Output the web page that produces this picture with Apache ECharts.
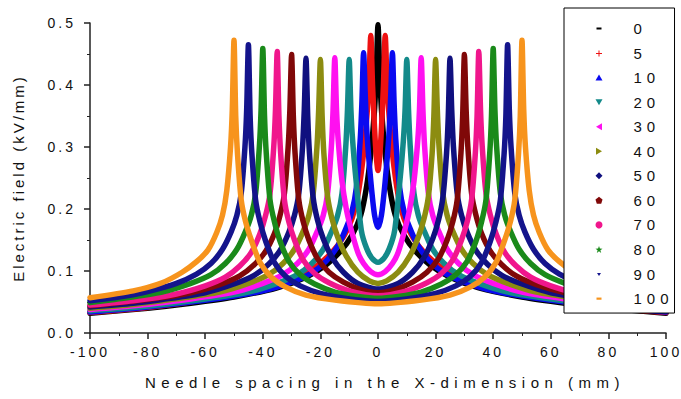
<!DOCTYPE html>
<html>
<head>
<meta charset="utf-8">
<script src="https://cdn.jsdelivr.net/npm/echarts@6/dist/echarts.min.js"></script>
<style>
html,body{margin:0;padding:0;background:#fff;}
#main{width:681px;height:399px;}
</style>
</head>
<body>
<div id="main"></div>
<script>
// Legend / series names (needle spacing, mm)
const seriesNames = ['0','5','10','20','30','40','50','60','70','80','90','100'];

// Values: x (mm) and electric field (kV/mm)
const x0 = [-100,-80,-65,-50,-35,-25,-18,-13,-9,-6,-4,-2.5,-1.2,-0.6,0,0.6,1.2,2.5,4,6,9,13,18,25,35,50,65,80,100];
const y0 = [0.032,0.04,0.048,0.058,0.073,0.09,0.11,0.132,0.158,0.19,0.235,0.29,0.36,0.42,0.497,0.42,0.36,0.29,0.235,0.19,0.158,0.132,0.11,0.09,0.073,0.058,0.048,0.04,0.032];

const x5 = [-100,-80,-55,-40,-30,-22,-16,-12,-9,-7,-5,-3.7,-3.1,-2.5,-1.9,-1.2,-0.6,0,0.6,1.2,1.9,2.5,3.1,3.7,5,7,9,12,16,22,30,40,55,80,100];
const y5 = [0.033,0.041,0.057,0.071,0.087,0.106,0.13,0.155,0.185,0.222,0.29,0.36,0.41,0.48,0.4,0.33,0.285,0.262,0.285,0.33,0.4,0.48,0.41,0.36,0.29,0.222,0.185,0.155,0.13,0.106,0.087,0.071,0.057,0.041,0.033];

const x10 = [-100,-80,-55,-40,-30,-23,-18,-14,-11,-9,-7.5,-6.2,-5.6,-5,-4.4,-3.8,-2.5,-1.2,0,1.2,2.5,3.8,4.4,5,5.6,6.2,7.5,9,11,14,18,23,30,40,55,80,100];
const y10 = [0.034,0.042,0.056,0.068,0.082,0.097,0.116,0.14,0.17,0.197,0.235,0.31,0.37,0.452,0.38,0.32,0.245,0.19,0.17,0.19,0.245,0.32,0.38,0.452,0.37,0.31,0.235,0.197,0.17,0.14,0.116,0.097,0.082,0.068,0.056,0.042,0.034];

const x20 = [-100,-85,-60,-45,-35,-28,-23,-19,-16,-14,-12.5,-11.2,-10.6,-10,-9.4,-8.8,-7.6,-5.8,-4,-2,0,2,4,5.8,7.6,8.8,9.4,10,10.6,11.2,12.5,14,16,19,23,28,35,45,60,85,100];
const y20 = [0.036,0.041,0.055,0.066,0.08,0.094,0.112,0.135,0.165,0.19,0.225,0.3,0.36,0.441,0.36,0.31,0.245,0.166,0.137,0.12,0.114,0.12,0.137,0.166,0.245,0.31,0.36,0.441,0.36,0.3,0.225,0.19,0.165,0.135,0.112,0.094,0.08,0.066,0.055,0.041,0.036];

const x30 = [-100,-85,-65,-50,-40,-33,-28,-24,-21,-19,-17.5,-16.2,-15.6,-15,-14.4,-13.8,-12.5,-11,-9.5,-7,-5,-2.5,0,2.5,5,7,9.5,11,12.5,13.8,14.4,15,15.6,16.2,17.5,19,21,24,28,33,40,50,65,85,100];
const y30 = [0.038,0.044,0.055,0.066,0.08,0.094,0.112,0.135,0.165,0.19,0.225,0.3,0.36,0.444,0.36,0.31,0.245,0.2,0.17,0.13,0.112,0.099,0.094,0.099,0.112,0.13,0.17,0.2,0.245,0.31,0.36,0.444,0.36,0.3,0.225,0.19,0.165,0.135,0.112,0.094,0.08,0.066,0.055,0.044,0.038];

const x40 = [-100,-85,-70,-55,-45,-38,-33,-29,-26,-24,-22.5,-21.2,-20.6,-20,-19.4,-18.8,-17.5,-16,-14,-11,-7,-3,0,3,7,11,14,16,17.5,18.8,19.4,20,20.6,21.2,22.5,24,26,29,33,38,45,55,70,85,100];
const y40 = [0.04,0.046,0.055,0.066,0.08,0.094,0.112,0.135,0.164,0.19,0.225,0.3,0.36,0.441,0.35,0.29,0.22,0.185,0.155,0.124,0.098,0.084,0.08,0.084,0.098,0.124,0.155,0.185,0.22,0.29,0.35,0.441,0.36,0.3,0.225,0.19,0.164,0.135,0.112,0.094,0.08,0.066,0.055,0.046,0.04];

const x50 = [-100,-85,-75,-60,-50,-43,-38,-34,-31,-29,-27.5,-26.2,-25.6,-25,-24.4,-23.8,-22.5,-21,-19,-16,-12,-7,0,7,12,16,19,21,22.5,23.8,24.4,25,25.6,26.2,27.5,29,31,34,38,43,50,60,75,85,100];
const y50 = [0.042,0.048,0.054,0.065,0.079,0.093,0.111,0.133,0.162,0.19,0.225,0.3,0.36,0.443,0.35,0.29,0.218,0.182,0.152,0.122,0.098,0.08,0.071,0.08,0.098,0.122,0.152,0.182,0.218,0.29,0.35,0.443,0.36,0.3,0.225,0.19,0.162,0.133,0.111,0.093,0.079,0.065,0.054,0.048,0.042];

const x60 = [-100,-80,-65,-55,-48,-43,-39,-36,-34,-32.5,-31.2,-30.6,-30,-29.4,-28.8,-27.5,-26,-24,-21,-17,-12,-6,0,6,12,17,21,24,26,27.5,28.8,29.4,30,30.6,31.2,32.5,34,36,39,43,48,55,65,80,100];
const y60 = [0.044,0.054,0.065,0.078,0.092,0.11,0.132,0.16,0.19,0.225,0.3,0.36,0.449,0.35,0.29,0.215,0.18,0.15,0.12,0.098,0.082,0.07,0.065,0.07,0.082,0.098,0.12,0.15,0.18,0.215,0.29,0.35,0.449,0.36,0.3,0.225,0.19,0.16,0.132,0.11,0.092,0.078,0.065,0.054,0.044];

const x70 = [-100,-85,-70,-60,-53,-48,-44,-41,-39,-37.5,-36.2,-35.6,-35,-34.4,-33.8,-32.5,-31,-29,-26,-22,-17,-10,0,10,17,22,26,29,31,32.5,33.8,34.4,35,35.6,36.2,37.5,39,41,44,48,53,60,70,85,100];
const y70 = [0.045,0.052,0.063,0.076,0.09,0.108,0.13,0.16,0.19,0.225,0.3,0.36,0.454,0.35,0.29,0.215,0.18,0.15,0.118,0.096,0.081,0.068,0.06,0.068,0.081,0.096,0.118,0.15,0.18,0.215,0.29,0.35,0.454,0.36,0.3,0.225,0.19,0.16,0.13,0.108,0.09,0.076,0.063,0.052,0.045];

const x80 = [-100,-90,-75,-65,-58,-53,-49,-46,-44,-42.5,-41.2,-40.6,-40,-39.4,-38.8,-37.5,-36,-34,-31,-27,-22,-15,-7,0,7,15,22,27,31,34,36,37.5,38.8,39.4,40,40.6,41.2,42.5,44,46,49,53,58,65,75,90,100];
const y80 = [0.049,0.055,0.066,0.08,0.094,0.112,0.135,0.164,0.19,0.225,0.3,0.36,0.459,0.35,0.29,0.215,0.18,0.148,0.116,0.094,0.079,0.066,0.059,0.056,0.059,0.066,0.079,0.094,0.116,0.148,0.18,0.215,0.29,0.35,0.459,0.36,0.3,0.225,0.19,0.164,0.135,0.112,0.094,0.08,0.066,0.055,0.049];

const x90 = [-100,-90,-80,-70,-63,-58,-54,-51,-49,-47.5,-46.2,-45.6,-45,-44.4,-43.8,-42.5,-41,-39,-36,-32,-27,-20,-10,0,10,20,27,32,36,39,41,42.5,43.8,44.4,45,45.6,46.2,47.5,49,51,54,58,63,70,80,90,100];
const y90 = [0.052,0.058,0.067,0.08,0.095,0.112,0.135,0.163,0.19,0.225,0.3,0.36,0.465,0.35,0.29,0.215,0.18,0.148,0.114,0.091,0.076,0.064,0.055,0.051,0.055,0.064,0.076,0.091,0.114,0.148,0.18,0.215,0.29,0.35,0.465,0.36,0.3,0.225,0.19,0.163,0.135,0.112,0.095,0.08,0.067,0.058,0.052];

const x100 = [-100,-85,-75,-68,-63,-59,-56,-54,-52.5,-51.2,-50.6,-50,-49.4,-48.8,-47.5,-46,-44,-41,-37,-32,-25,-15,0,15,25,32,37,41,44,46,47.5,48.8,49.4,50,50.6,51.2,52.5,54,56,59,63,68,75,85,100];
const y100 = [0.057,0.068,0.081,0.098,0.115,0.134,0.162,0.19,0.23,0.3,0.36,0.472,0.35,0.29,0.215,0.18,0.15,0.114,0.09,0.074,0.061,0.053,0.047,0.053,0.061,0.074,0.09,0.114,0.15,0.18,0.215,0.29,0.35,0.472,0.36,0.3,0.23,0.19,0.162,0.134,0.115,0.098,0.081,0.068,0.057];

const xLists = [x0,x5,x10,x20,x30,x40,x50,x60,x70,x80,x90,x100];
const yLists = [y0,y5,y10,y20,y30,y40,y50,y60,y70,y80,y90,y100];

const colors = ['#000000','#EE1111','#0A0AF0','#138A8A','#FF10F0','#8C8C10','#10107F','#800808','#F0168C','#1A8A1A','#14148C','#F7941D'];
const icons = [
  'path://M0,0M7,7M1,2.5h5v2h-5z',
  'path://M0,0M7,7M3,1h1v2.5h2.5v1h-2.5v2.5h-1v-2.5h-2.5v-1h2.5z',
  'path://M3.5,0.5L7,6.5L0,6.5z',
  'path://M0,0.5L7,0.5L3.5,6.5z',
  'path://M6.5,0L6.5,7L0.5,3.5z',
  'path://M0.5,0L6.5,3.5L0.5,7z',
  'path://M3.5,0L7,3.5L3.5,7L0,3.5z',
  'path://M3.5,0L7,2.6L5.7,7L1.3,7L0,2.6z',
  'circle',
  'path://M3.5,0L4.4,2.6L7,2.7L4.9,4.3L5.7,7L3.5,5.4L1.3,7L2.1,4.3L0,2.7L2.6,2.6z',
  'path://M0,0M7,7M1.5,2.5L5.5,2.5L3.5,5.5z',
  'path://M0,0M7,7M1,2.5h5v2.2h-5z'
];

const series = seriesNames.map((name, i) => ({
  type: 'line',
  name: name,
  data: xLists[i].map((x, k) => [x, yLists[i][k]]),
  showSymbol: false,
  symbol: 'none',
  smooth: 0.25,
  lineStyle: { width: 5.5, color: colors[i], join: 'round', cap: 'round' },
  itemStyle: { color: colors[i] },
  emphasis: { disabled: true },
  animation: false
}));

const FONT = 'Liberation Sans';
const chart = echarts.init(document.getElementById('main'), null, { renderer: 'svg' });
chart.setOption({
  animation: false,
  backgroundColor: '#ffffff',
  grid: { left: 90, right: 15, top: 23, bottom: 66, containLabel: false },
  legend: {
    data: seriesNames.map((n, i) => ({ name: n, icon: icons[i] })),
    orient: 'vertical',
    left: 564, top: 8,
    padding: [13, 16, 7, 31.5],
    itemWidth: 7, itemHeight: 7, itemGap: 9.55,
    backgroundColor: '#ffffff',
    borderColor: '#000000', borderWidth: 1, borderRadius: 0,
    selectedMode: false,
    itemStyle: { borderWidth: 0 },
    textStyle: { fontSize: 15, color: '#111111', fontFamily: FONT, lineHeight: 15, padding: [0, 0, 0, 26] }
  },
  xAxis: {
    type: 'value', min: -100, max: 100, interval: 20,
    name: 'Needle spacing in the X-dimension (mm)',
    nameLocation: 'middle', nameGap: 42, nameMoveOverlap: false,
    nameTextStyle: { fontSize: 15, color: '#111111', fontFamily: FONT, padding: [0, 0, 0, 14] },
    axisLine: { show: true, onZero: false, lineStyle: { color: '#222222', width: 1.5 } },
    axisTick: { show: true, inside: false, length: 6, lineStyle: { color: '#222222', width: 1.5 } },
    minorTick: { show: true, splitNumber: 2, length: 3, lineStyle: { color: '#222222', width: 1 } },
    axisLabel: { fontSize: 14, color: '#111111', fontFamily: FONT, margin: 12 },
    splitLine: { show: false }, minorSplitLine: { show: false }
  },
  yAxis: {
    type: 'value', min: 0, max: 0.5, interval: 0.1,
    name: 'Electric field (kV/mm)',
    nameLocation: 'middle', nameGap: 64, nameMoveOverlap: false,
    nameTextStyle: { fontSize: 15, color: '#111111', fontFamily: FONT },
    axisLine: { show: true, onZero: false, lineStyle: { color: '#222222', width: 1.5 } },
    axisTick: { show: true, inside: false, length: 6, lineStyle: { color: '#222222', width: 1.5 } },
    minorTick: { show: true, splitNumber: 2, length: 3, lineStyle: { color: '#222222', width: 1 } },
    axisLabel: { fontSize: 14, color: '#111111', fontFamily: FONT, margin: 14, formatter: v => v.toFixed(1) },
    splitLine: { show: false }, minorSplitLine: { show: false }
  },
  series: series
});

function spaceText() {
  document.querySelectorAll('#main text').forEach(t => {
    const s = t.textContent || '';
    let ls = '3px';
    if (s.indexOf('Needle') === 0) ls = '5.5px';
    else if (s.indexOf('Electric') === 0) ls = '3px';
    else if (parseFloat(getComputedStyle(t).fontSize) >= 15) ls = '5px';
    t.style.letterSpacing = ls;
  });
}
chart.on('finished', spaceText);
spaceText();
setTimeout(spaceText, 50);
</script>
</body>
</html>
